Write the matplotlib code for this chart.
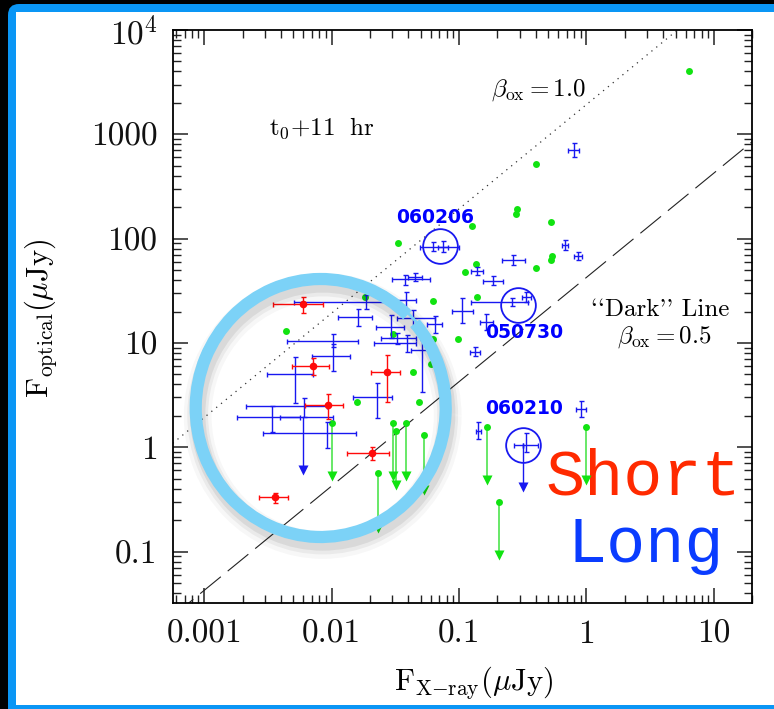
import numpy as np
import matplotlib
matplotlib.use("Agg")
import matplotlib.pyplot as plt
from matplotlib.patches import Rectangle, FancyBboxPatch, Arc
from matplotlib.transforms import IdentityTransform
from matplotlib.ticker import NullFormatter

plt.rcParams['font.family'] = ['cmr10', 'DejaVu Serif']
plt.rcParams['mathtext.fontset'] = 'cm'
plt.rcParams['axes.unicode_minus'] = False
plt.rcParams['axes.formatter.use_mathtext'] = True

# green: detections (no errors)
green_x = [6.4, 0.405, 0.285, 0.279, 0.531, 0.126, 0.0333, 0.533, 0.525, 0.405,
           0.135, 0.112, 0.137, 0.0625, 0.098, 0.0625, 0.0435, 0.060, 0.0303,
           0.0044, 0.0182, 0.0158, 0.0485]
green_y = [4000, 522, 191, 173, 144, 131, 91, 68.5, 62.8, 52.6,
           57, 47.5, 27.7, 25.4, 10.8, 10.9, 5.22, 6.24, 12.1,
           13.1, 27.4, 2.73, 2.73]

# green: upper limits (value, arrow end)
gul_x = [0.0100, 0.0305, 0.0319, 0.0382, 0.0528, 0.023, 0.167, 0.206, 1.0]
gul_y = [1.72, 1.72, 1.44, 1.72, 1.31, 0.569, 1.57, 0.296, 1.57]
gul_end = [0.53, 0.53, 0.434, 0.53, 0.389, 0.168, 0.485, 0.0926, 0.485]

# long GRBs (blue): x, y and error ranges
long_x = [0.80, 0.0625, 0.0745, 0.267, 0.675, 0.853, 0.138, 0.185, 0.0375, 0.0449,
          0.0384, 0.106, 0.259, 0.338, 0.133, 0.0645, 0.164, 0.0185, 0.0161, 0.029,
          0.0323, 0.0387, 0.0431, 0.0516, 0.0102, 0.0103, 0.00514, 0.0225, 0.00609,
          0.00338, 0.00912, 0.141, 0.901, 0.334]
long_y = [707, 83.6, 83.6, 62.4, 86.9, 68.6, 48.9, 39.5, 40.7, 43.1,
          25.8, 20.4, 24.7, 27.4, 8.24, 15.2, 16.0, 24.8, 17.8, 14.3,
          11.1, 10.0, 17.2, 8.55, 10.5, 7.49, 5.03, 3.01, 2.50,
          1.96, 1.36, 1.44, 2.32, 1.05]
long_xlo = [0.71, 0.0492, 0.0681, 0.216, 0.639, 0.794, 0.125, 0.154, 0.0295, 0.0396,
            0.0313, 0.0872, 0.125, 0.310, 0.121, 0.0555, 0.147, 0.00505, 0.0113, 0.0221,
            0.0242, 0.0214, 0.0323, 0.0423, 0.00443, 0.00696, 0.00312, 0.0147, 0.00211,
            0.00181, 0.00287, 0.135, 0.823, 0.269]
long_xhi = [0.88, 0.0995, 0.0815, 0.330, 0.712, 0.917, 0.153, 0.221, 0.0589, 0.051,
            0.0463, 0.129, 0.346, 0.365, 0.145, 0.0741, 0.183, 0.0286, 0.0209, 0.0368,
            0.0463, 0.0463, 0.0645, 0.0625, 0.0161, 0.0139, 0.00716, 0.030, 0.00912,
            0.00563, 0.0155, 0.148, 0.986, 0.417]
long_ylo = [606, 76.1, 74.4, 55.8, 77.7, 62.8, 45.1, 35.6, 35.9, 39.5,
            21.0, 15.4, 22.6, 24.7, 7.49, 12.5, 13.4, 21.0, 14.5, 11.1,
            9.76, 8.24, 14.3, 3.40, 9.13, 5.41, 2.64, 1.89, 1.96,
            1.41, 0.976, 1.19, 1.93, 0.906]
long_yhi = [825, 92.8, 94.8, 69.6, 97.0, 74.9, 53.1, 43.8, 44.8, 47.1,
            31.0, 26.8, 26.9, 30.8, 9.13, 18.1, 19.1, 28.8, 21.0, 18.5,
            12.4, 11.9, 20.7, 10.7, 12.2, 9.76, 7.38, 4.10, 2.98,
            2.50, 1.76, 1.76, 2.79, 1.36]

# long GRBs: upper limits
lul_x = [0.00598, 0.318]
lul_y = [1.96, 1.05]
lul_xlo = [0.00392, 0.318]
lul_xhi = [0.0102, 0.318]
lul_end = [0.605, 0.415]

# short GRBs (red)
short_x = [0.00598, 0.00712, 0.0272, 0.00929, 0.0206, 0.0036]
short_y = [23.6, 6.00, 5.23, 2.52, 0.88, 0.331]
short_xlo = [0.00344, 0.00485, 0.0203, 0.0062, 0.0131, 0.0027]
short_xhi = [0.00858, 0.0095, 0.0343, 0.0123, 0.0282, 0.00451]
short_ylo = [19.2, 4.92, 2.73, 1.86, 0.754, 0.294]
short_yhi = [27.7, 7.12, 7.66, 3.22, 1.01, 0.366]

# circled bursts
circ_names = ['060206', '050730', '060210']
circ_x = [0.0714, 0.290, 0.318]
circ_y = [85.5, 23.1, 1.05]

# beta_ox lines: F_opt = norm * F_x
norm_b10 = 1930.0
norm_b05 = 42.5

xlim = (5.65e-4, 20)
ylim = (0.0319, 1e4)

BLUE = '#1818f0'
GREEN = '#11e311'
GREEN_L = '#5ce65c'
RED = '#ff0a0a'


def bars(ax, x, y, xlo, xhi, ylo, yhi, color, **kw):
  x, y = np.array(x), np.array(y)
  xerr = [x - np.array(xlo), np.array(xhi) - x]
  yerr = [y - np.array(ylo), np.array(yhi) - y]
  ax.errorbar(x, y, xerr=xerr, yerr=yerr, color=color, ecolor=color,
              elinewidth=1.0, capsize=1.8, capthick=1.0, **kw)


fig = plt.figure(figsize=(7.74, 7.09), dpi=100)
fig.patch.set_facecolor('black')
W, H = 774, 709
# frame: black page, blue border, white panel running off the right edge
fig.add_artist(Rectangle((8 / W, -1), 3, 1 + (H - 4) / H, transform=fig.transFigure,
                         fc='#0a96f5', ec='none', zorder=-10))
# rounded top-left corner of the border
fig.add_artist(Rectangle((8, H - 34), 30, 30, transform=IdentityTransform(),
                         fc='black', ec='none', zorder=-9.8))
fig.add_artist(FancyBboxPatch((8, H - 64), 60, 60, boxstyle="round,pad=0,rounding_size=11",
                              transform=IdentityTransform(), fc='#0a96f5', ec='none',
                              zorder=-9.6))
fig.add_artist(Rectangle((16 / W, 4 / H), 3, (H - 16) / H, transform=fig.transFigure,
                         fc='white', ec='none', zorder=-9))

ax = fig.add_axes([0.2231, 0.1491, 0.7488, 0.8086])
ax.patch.set_alpha(0)
ax.set_xscale('log')
ax.set_yscale('log')
ax.set_xlim(*xlim)
ax.set_ylim(*ylim)

# beta_ox lines
xx = np.array(xlim)
ax.plot(xx, norm_b10 * xx, color='#333333', lw=0.9, ls=(0, (1, 4)), zorder=2)
ax.plot(xx, norm_b05 * xx, color='#222222', lw=0.8, ls=(0, (24, 8)), zorder=2)

# green detections
ax.plot(green_x, green_y, 'o', color=GREEN, ms=5, mec='none', zorder=4)
# green upper limits
for x, y, e in zip(gul_x, gul_y, gul_end):
  ax.plot([x, x], [y, e], color=GREEN_L, lw=1.3, zorder=3)
ax.plot(gul_x, gul_y, 'o', color=GREEN, ms=5, mec='none', zorder=4)
ax.plot(gul_x, gul_end, 'v', color=GREEN, ms=7.5, mec='none', zorder=4)

# long bursts
bars(ax, long_x, long_y, long_xlo, long_xhi, long_ylo, long_yhi, BLUE, fmt='none', zorder=5)
lx = np.array(lul_x)
ax.errorbar(lx, lul_y, xerr=[lx - np.array(lul_xlo), np.array(lul_xhi) - lx],
            fmt='none', ecolor=BLUE, elinewidth=1.0, capsize=1.8, zorder=5)
for x, y, e in zip(lul_x, lul_y, lul_end):
  ax.plot([x, x], [y, e], color=BLUE, lw=1.0, zorder=5)
ax.plot(lul_x, lul_end, 'v', color=BLUE, ms=7.5, mec='none', zorder=5)

# short bursts
bars(ax, short_x, short_y, short_xlo, short_xhi, short_ylo, short_yhi, RED,
     fmt='o', ms=5.5, mec='none', zorder=6)

# circled bursts
ax.plot(circ_x, circ_y, 'o', mfc='none', mec=BLUE, mew=1.3, ms=25, zorder=6)
lab_xy = [(0.0645, 161), (0.322, 12.5), (0.322, 2.36)]
for name, (tx, ty) in zip(circ_names, lab_xy):
  ax.text(tx, ty, name, color='#0000ff', fontsize=13.5, fontweight='bold',
          family='DejaVu Sans', ha='center', va='center', zorder=7)

# text
ax.text(0.166, 0.829, r'$\mathrm{t_0{+}11\ \ hr}$', transform=ax.transAxes,
        fontsize=18, ha='left', va='center')
ax.text(0.550, 0.895, r'$\beta_{\mathrm{ox}}{=}1.0$', transform=ax.transAxes,
        fontsize=18, ha='left', va='center')
ax.text(0.842, 0.512, "``Dark'' Line", transform=ax.transAxes,
        fontsize=18, ha='center', va='center')
ax.text(0.849, 0.465, r'$\beta_{\mathrm{ox}}{=}0.5$', transform=ax.transAxes,
        fontsize=18, ha='center', va='center')
ax.text(0.812, 0.189, 'Short', transform=ax.transAxes, fontsize=47,
        family='Liberation Mono', color='#ff2a00', ha='center', va='baseline', zorder=1)
ax.text(0.8156, 0.0726, 'Long', transform=ax.transAxes, fontsize=47,
        family='Liberation Mono', color='#0a3cff', ha='center', va='baseline', zorder=1)

# ticks
ax.set_xticks([0.001, 0.01, 0.1, 1, 10])
ax.set_xticklabels(['0.001', '0.01', '0.1', '1', '10'])
ax.set_yticks([0.1, 1, 10, 100, 1000, 1e4])
ax.set_yticklabels(['0.1', '1', '10', '100', '1000', r'$10^4$'])
ax.xaxis.set_minor_formatter(NullFormatter())
ax.yaxis.set_minor_formatter(NullFormatter())
ax.tick_params(which='both', direction='in', top=True, right=True, colors='#222222',
               labelcolor='#111111', labelsize=24)
ax.tick_params(which='major', length=10.8, width=1.1)
ax.tick_params(which='minor', length=5.5, width=1.0)
ax.tick_params(axis='y', pad=11)
ax.tick_params(axis='x', pad=12)
for s in ax.spines.values():
  s.set_linewidth(1.3)

fig.text(474 / W, 1 - 683 / H, r'$\mathrm{F}_{\mathrm{X{-}ray}}(\mu\mathrm{Jy})$',
         fontsize=22, ha='center', va='center')
fig.text(41 / W, 1 - 318 / H, r'$\mathrm{F}_{\mathrm{optical}}(\mu\mathrm{Jy})$',
         fontsize=22, ha='center', va='center', rotation=90)

# highlight ring with soft drop shadow
cx, cy = 320.7, H - 408
for off, lw, a in [(8, 20, 0.03), (7, 15, 0.05), (6, 11, 0.07)]:
  fig.add_artist(Arc((cx + 2, cy - off), 250, 258, theta1=0, theta2=360,
                     transform=IdentityTransform(), color='black', lw=lw, alpha=a,
                     zorder=2))
fig.add_artist(Arc((cx, cy), 250, 258, theta1=47, theta2=402,
                   transform=IdentityTransform(), color='#7cd2f7', lw=8.8, zorder=3))
fig.add_artist(Arc((cx, cy), 254, 261, theta1=40, theta2=56,
                   transform=IdentityTransform(), color='#7cd2f7', lw=2.0, zorder=3))

fig.savefig('out.png', dpi=100, facecolor=fig.get_facecolor())
